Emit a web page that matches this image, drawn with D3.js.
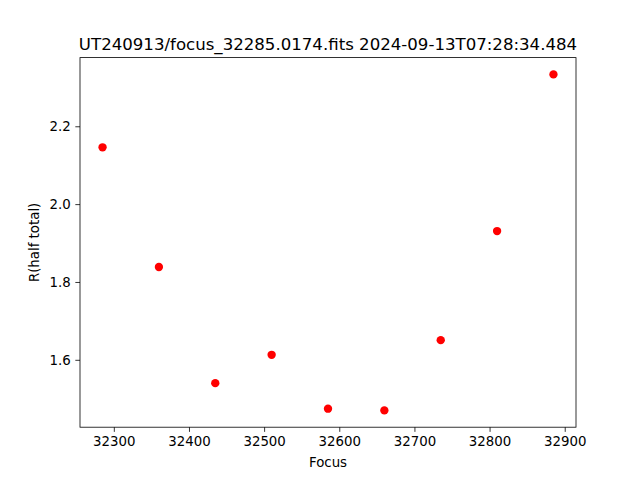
<!DOCTYPE html>
<html>
<head>
<meta charset="utf-8">
<script src="https://cdn.jsdelivr.net/npm/d3@7"></script>
<style>
  body { margin: 0; background: #fff; }
  text { font-family: "DejaVu Sans", sans-serif; fill: #000; }
</style>
</head>
<body>
<svg id="chart" width="640" height="480"></svg>
<script>
const focusValues = [32285, 32360, 32435, 32510, 32585, 32660, 32735, 32810, 32885];
const radiusValues = [2.146, 1.8385, 1.540, 1.6128, 1.4744, 1.4700, 1.6505, 1.9308, 2.3333];
const xTicks = [32300, 32400, 32500, 32600, 32700, 32800, 32900];
const yTicks = [1.6, 1.8, 2.0, 2.2];
const titleText = "UT240913/focus_32285.0174.fits 2024-09-13T07:28:34.484";
const xLabel = "Focus";
const yLabel = "R(half total)";

const svg = d3.select("#chart");
const L = 80, R = 576, T = 57.6, B = 427.2;

function padded(arr) {
  const [a, b] = d3.extent(arr);
  const m = (b - a) * 0.05;
  return [a - m, b + m];
}

const x = d3.scaleLinear().domain(padded(focusValues)).range([L, R]);
const y = d3.scaleLinear().domain(padded(radiusValues)).range([B, T]);

const xAxis = d3.axisBottom(x).tickValues(xTicks).tickSize(4.67).tickPadding(4.67).tickFormat(d3.format("d"));
const yAxis = d3.axisLeft(y).tickValues(yTicks).tickSize(4.67).tickPadding(4.67).tickFormat(d3.format(".1f"));

const gx = svg.append("g").attr("transform", `translate(0,${B})`).call(xAxis);
const gy = svg.append("g").attr("transform", `translate(${L},0)`).call(yAxis);
[gx, gy].forEach(g => {
  g.select(".domain").remove();
  g.selectAll(".tick line").attr("stroke", "#000").attr("stroke-width", 0.8);
  g.selectAll(".tick text").attr("font-size", "13.33px").attr("font-family", "DejaVu Sans, sans-serif").attr("fill", "#000");
});

// frame
svg.append("rect").attr("x", L).attr("y", T).attr("width", R - L).attr("height", B - T)
  .attr("fill", "none").attr("stroke", "#000").attr("stroke-width", 0.8);

svg.append("g").selectAll("circle").data(focusValues).join("circle")
  .attr("cx", d => x(d))
  .attr("cy", (d, i) => y(radiusValues[i]))
  .attr("r", 4.17)
  .attr("fill", "#ff0000");

svg.append("text").attr("x", (L + R) / 2).attr("y", 49.5).attr("text-anchor", "middle")
  .attr("font-size", "16.6px").text(titleText);

svg.append("text").attr("x", (L + R) / 2).attr("y", 467).attr("text-anchor", "middle")
  .attr("font-size", "13.33px").text(xLabel);

svg.append("text").attr("transform", `translate(39,${(T + B) / 2}) rotate(-90)`).attr("text-anchor", "middle")
  .attr("font-size", "13.33px").text(yLabel);
</script>
</body>
</html>
